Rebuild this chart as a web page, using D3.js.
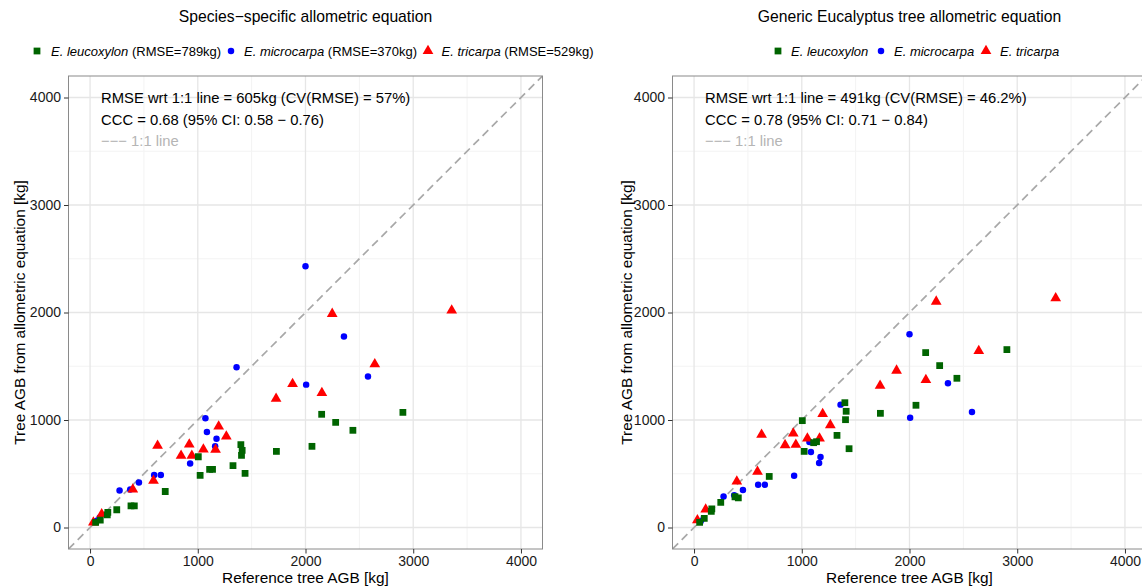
<!DOCTYPE html>
<html>
<head>
<meta charset="utf-8">
<script src="https://cdn.jsdelivr.net/npm/d3@7"></script>
<style>
  html, body { margin: 0; padding: 0; background: #fff; }
  svg { display: block; font-family: "Liberation Sans", Arial, Helvetica, sans-serif; }
</style>
</head>
<body>
<svg id="chart" width="1142" height="587"></svg>
<script>
// ---------------- DATA ----------------
const species = ["E. leucoxylon", "E. microcarpa", "E. tricarpa"];
const speciesRMSE = ["789kg", "370kg", "529kg"];
const tickValues = [0, 1000, 2000, 3000, 4000];
const minorTickValues = [500, 1500, 2500, 3500];

// Reference tree AGB [kg]
const leucoRef     = [2904, 2150, 2280, 2440, 2060, 1730, 1400, 1412, 1406, 1005, 1022, 1110, 1137, 1327, 1439, 698, 380, 411, 248, 165, 160, 95, 52];
const leucoSpecific= [1071, 1053,  978,  904,  755,  708,  770,  717,  671,  658,  484,  540,  540,  575,  503, 335, 202, 202, 165, 140, 118, 68, 47];
const leucoGeneric = [1655, 1627, 1506, 1388, 1137, 1062, 1161, 1081, 1003,  994,  708,  789,  798,  857,  733, 475, 286, 276, 233, 174, 149, 84, 47];

const microRef      = [2000, 2357, 2580, 2006, 1360, 1071, 1085, 1174, 1161, 929, 595, 657, 454, 274, 373, 90, 62];
const microSpecific = [2430, 1776, 1404, 1329, 1491, 1016,  888,  826,  755, 596, 488, 488, 419, 345, 354, 93, 62];
const microGeneric  = [1798, 1342, 1075, 1022, 1143,  795,  702,  655,  599, 481, 398, 398, 348, 289, 301, 87, 58];

const triRef      = [3357, 2248, 2643, 1880, 2152, 1727, 1194, 1265, 627, 921, 845, 945, 1052, 1165, 589, 397, 108, 31];
const triSpecific = [2019, 1988, 1519, 1335, 1252, 1199,  941,  848, 761, 773, 668, 668,  727,  724, 435, 354, 124, 47];
const triGeneric  = [2133, 2102, 1643, 1460, 1373, 1320, 1056,  953, 863, 876, 767, 770,  829,  829, 519, 429, 168, 68];

const panelTitles = ["Species\u2212specific allometric equation", "Generic Eucalyptus tree allometric equation"];
const statLine1 = ["RMSE wrt 1:1 line = 605kg (CV(RMSE) = 57%)", "RMSE wrt 1:1 line = 491kg (CV(RMSE) = 46.2%)"];
const statLine2 = ["CCC = 0.68 (95% CI: 0.58 \u2212 0.76)", "CCC = 0.78 (95% CI: 0.71 \u2212 0.84)"];
const xTitle = "Reference tree AGB [kg]";
const yTitle = "Tree AGB from allometric equation [kg]";

// ---------------- STYLE ----------------
const colors = ["#006400", "#0000FF", "#FF0000"];
const shapes = [d3.symbolSquare, d3.symbolCircle, d3.symbolTriangle];
const shapeSizes = [46, 33, 50];
const drawOrder = [1, 2, 0];

const svg = d3.select("#chart");
const domain = [-200, 4200];

const panels = [
  { left: 68.5, right: 542.5, ys: [leucoSpecific, microSpecific, triSpecific], withRMSE: true,
    legendX: [37, 231, 428], legendTextX: [51, 244, 441.5], yTitleX: 20 },
  { left: 672.5, right: 1146.5, ys: [leucoGeneric, microGeneric, triGeneric], withRMSE: false,
    legendX: [778, 881, 986], legendTextX: [791, 894, 1000], yTitleX: 627 }
];
const refs = [leucoRef, microRef, triRef];
const plotTop = 76, plotBottom = 549;

panels.forEach((p, pi) => {
  const x = d3.scaleLinear().domain(domain).range([p.left, p.right]);
  const y = d3.scaleLinear().domain(domain).range([plotBottom, plotTop]);
  const g = svg.append("g");
  const clipId = "clip" + pi;
  svg.append("defs").append("clipPath").attr("id", clipId)
    .append("rect").attr("x", p.left).attr("y", plotTop).attr("width", p.right - p.left).attr("height", plotBottom - plotTop);

  // minor grid
  g.selectAll(".minx").data(minorTickValues).join("line")
    .attr("x1", d => x(d)).attr("x2", d => x(d)).attr("y1", plotTop).attr("y2", plotBottom)
    .attr("stroke", "#f3f3f3").attr("stroke-width", 1);
  g.selectAll(".miny").data(minorTickValues).join("line")
    .attr("y1", d => y(d)).attr("y2", d => y(d)).attr("x1", p.left).attr("x2", p.right)
    .attr("stroke", "#f3f3f3").attr("stroke-width", 1);
  // major grid
  g.selectAll(".majx").data(tickValues).join("line")
    .attr("x1", d => x(d)).attr("x2", d => x(d)).attr("y1", plotTop).attr("y2", plotBottom)
    .attr("stroke", "#e6e6e6").attr("stroke-width", 1.3);
  g.selectAll(".majy").data(tickValues).join("line")
    .attr("y1", d => y(d)).attr("y2", d => y(d)).attr("x1", p.left).attr("x2", p.right)
    .attr("stroke", "#e6e6e6").attr("stroke-width", 1.3);

  // 1:1 line
  g.append("line").attr("clip-path", `url(#${clipId})`)
    .attr("x1", x(domain[0])).attr("y1", y(domain[0]))
    .attr("x2", x(domain[1])).attr("y2", y(domain[1]))
    .attr("stroke", "#a8a8a8").attr("stroke-width", 1.7).attr("stroke-dasharray", "8,5");

  // points
  const pg = g.append("g").attr("clip-path", `url(#${clipId})`);
  drawOrder.forEach(si => {
    const pts = refs[si].map((r, i) => [r, p.ys[si][i]]);
    pg.selectAll(null).data(pts).join("path")
      .attr("d", d3.symbol().type(shapes[si]).size(shapeSizes[si]))
      .attr("transform", d => `translate(${x(d[0])},${y(d[1])})`)
      .attr("fill", colors[si]);
  });

  // border
  g.append("rect").attr("x", p.left).attr("y", plotTop).attr("width", p.right - p.left).attr("height", plotBottom - plotTop)
    .attr("fill", "none").attr("stroke", "#8a8a8a").attr("stroke-width", 1);

  // axes
  const xa = g.append("g").attr("transform", `translate(0,${plotBottom})`)
    .call(d3.axisBottom(x).tickValues(tickValues).tickSize(4.5).tickPadding(2.5).tickFormat(d3.format("d")));
  const ya = g.append("g").attr("transform", `translate(${p.left},0)`)
    .call(d3.axisLeft(y).tickValues(tickValues).tickSize(4.5).tickPadding(3).tickFormat(d3.format("d")));
  [xa, ya].forEach(a => {
    a.select(".domain").remove();
    a.selectAll(".tick line").attr("stroke", "#333").attr("stroke-width", 1);
    a.selectAll(".tick text").attr("fill", "#1a1a1a").style("font-size", "14px")
      .style("font-family", '"Liberation Sans", Arial, sans-serif');
  });

  // annotation
  const ax = x(0) + 11;
  g.append("text").attr("x", ax).attr("y", 103).attr("font-size", 14.8).attr("fill", "#000").text(statLine1[pi]);
  g.append("text").attr("x", ax).attr("y", 124.5).attr("font-size", 14.8).attr("fill", "#000").text(statLine2[pi]);
  g.append("text").attr("x", ax).attr("y", 146).attr("font-size", 14.8).attr("fill", "#b5b5b5").text("\u2212\u2212\u2212 1:1 line");

  // title
  g.append("text").attr("x", (p.left + p.right) / 2).attr("y", 22).attr("text-anchor", "middle")
    .attr("font-size", 15.7).attr("fill", "#000").text(panelTitles[pi]);

  // legend
  species.forEach((s, si) => {
    g.append("path").attr("d", d3.symbol().type(shapes[si]).size(shapeSizes[si]))
      .attr("transform", `translate(${p.legendX[si]},51)`).attr("fill", colors[si]);
    const t = g.append("text").attr("x", p.legendTextX[si]).attr("y", 55.5).attr("font-size", 13).attr("fill", "#000");
    t.append("tspan").attr("font-style", "italic").text(s);
    if (p.withRMSE) t.append("tspan").text(" (RMSE=" + speciesRMSE[si] + ")");
  });

  // axis titles
  g.append("text").attr("x", (p.left + p.right) / 2).attr("y", 583).attr("text-anchor", "middle")
    .attr("font-size", 15.4).attr("fill", "#000").text(xTitle);
  g.append("text").attr("transform", `translate(${p.yTitleX + 5},${(plotTop + plotBottom) / 2}) rotate(-90)`)
    .attr("text-anchor", "middle").attr("font-size", 15.4).attr("fill", "#000").text(yTitle);
});
</script>
</body>
</html>
